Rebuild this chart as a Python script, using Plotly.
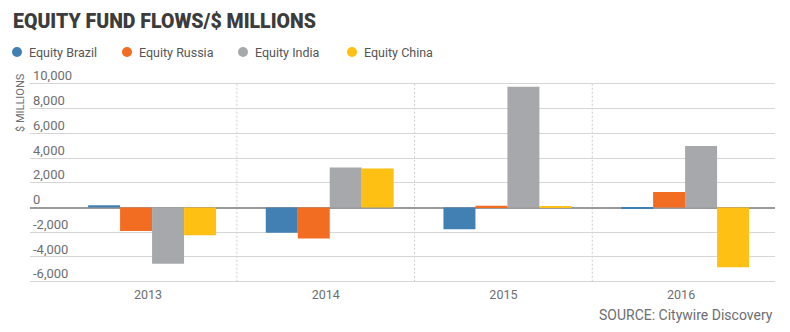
import plotly.graph_objects as go

years = ["2013", "2014", "2015", "2016"]
series_names = ["Equity Brazil", "Equity Russia", "Equity India", "Equity China"]
brazil = [190, -2050, -1760, -50]
russia = [-1900, -2510, 150, 1260]
india = [-4550, 3230, 9760, 4980]
china = [-2250, 3150, 50, -4840]
colors = ["#427fb3", "#f26d21", "#a6a8ab", "#fec012"]
y_ticks = [-6000, -4000, -2000, 0, 2000, 4000, 6000, 8000, 10000]
y_tick_labels = ["-6,000", "-4,000", "-2,000", "0", "2,000", "4,000", "6,000", "8,000", "10,000"]

values = [brazil, russia, india, china]
xi = list(range(len(years)))

W, H = 790, 332
ML, MR, MT, MB = 30, 15, 60, 47
PW, PH = W - ML - MR, H - MT - MB


def px_x(px):
    return (px - ML) / PW


def px_y(py):
    return (H - MB - py) / PH


fig = go.Figure()
for name, vals, col in zip(series_names, values, colors):
    fig.add_trace(go.Bar(x=xi, y=vals, name=name, marker=dict(color=col, line=dict(width=0)),
                         showlegend=False))

# category separators (dashed), spanning the tick range
for i in range(len(years) - 1):
    fig.add_shape(type="line", x0=i + 0.4775, x1=i + 0.4775, y0=y_ticks[0], y1=y_ticks[-1],
                  xref="x", yref="y", line=dict(color="#cccccc", width=1, dash="2px,2px"),
                  layer="below")

# legend (circle + label)
legend_circle_px = [17, 127, 243, 352]
for name, col, cx in zip(series_names, colors, legend_circle_px):
    fig.add_shape(type="circle", xref="paper", yref="paper",
                  xsizemode="pixel", ysizemode="pixel",
                  xanchor=px_x(cx), yanchor=px_y(52), x0=-5, x1=5, y0=-5, y1=5,
                  fillcolor=col, line=dict(width=0))
    fig.add_annotation(text=name, x=px_x(cx + 10), y=px_y(52), xref="paper", yref="paper",
                       xanchor="left", yanchor="middle", showarrow=False,
                       font=dict(size=12.5, color="#555555"))

fig.update_layout(
    width=W, height=H,
    margin=dict(l=ML, r=MR, t=MT, b=MB, autoexpand=False),
    paper_bgcolor="white", plot_bgcolor="white",
    barmode="group", bargap=0.28, bargroupgap=0,
    font=dict(family="Roboto", color="#6d6e71", size=12),
    title=dict(text="EQUITY FUND FLOWS/$ MILLIONS", x=13 / W, xref="container", xanchor="left",
               y=1 - 21 / H, yref="container", yanchor="middle",
               font=dict(family="Roboto", size=19.5, color="#3c3c3c", weight=900)),
    showlegend=False,
    xaxis=dict(range=[-0.687, 3.506], tickmode="array", tickvals=xi, ticktext=years,
               showgrid=False, zeroline=False, showline=False, ticks="", ticklabelshift=-4,
               tickfont=dict(size=12.5, color="#6d6e71")),
    yaxis=dict(range=[-6265, 11924], tickmode="array", tickvals=y_ticks, ticktext=y_tick_labels,
               showgrid=True, gridcolor="#d6d6d6", gridwidth=1,
               zeroline=True, zerolinecolor="#9a9a9a", zerolinewidth=2,
               ticklabelposition="inside", ticklabelshift=-8, ticks="",
               tickfont=dict(size=13, color="#6d6e71")),
)
fig.add_annotation(text="$ MILLIONS", textangle=-90, x=px_x(20), y=px_y(103), xref="paper", yref="paper",
                   xanchor="center", yanchor="middle", showarrow=False,
                   font=dict(size=11, color="#6d6e71"))
fig.add_annotation(text="SOURCE: Citywire Discovery", x=px_x(775), y=px_y(315), xref="paper", yref="paper",
                   xanchor="right", yanchor="middle", showarrow=False,
                   font=dict(size=14, color="#6d6e71"))
fig.write_html("out.html")
